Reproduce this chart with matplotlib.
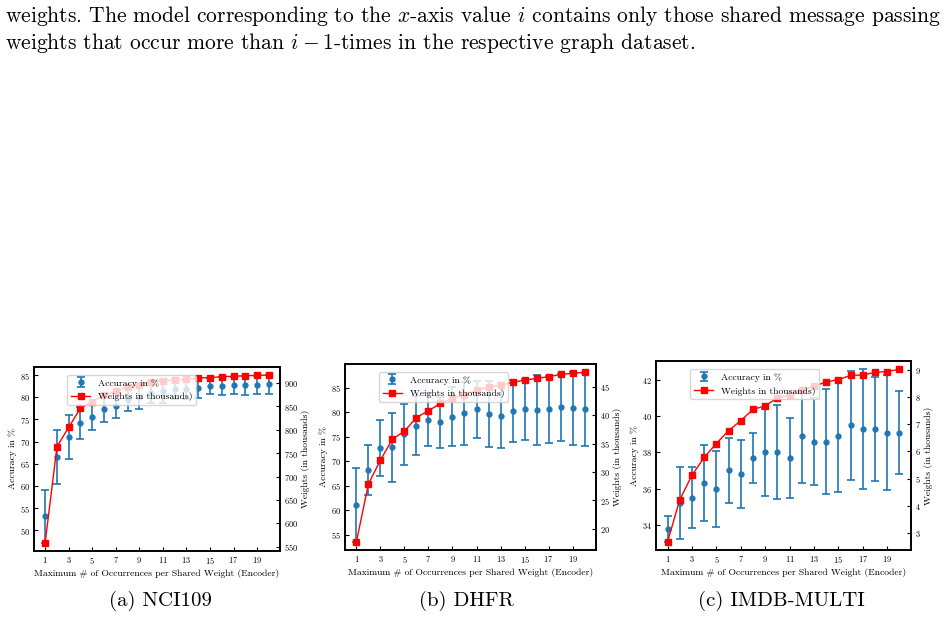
import numpy as np
import matplotlib
matplotlib.use("Agg")
import matplotlib.pyplot as plt

plt.rcParams['font.family'] = ['cmr10', 'DejaVu Serif']
plt.rcParams['mathtext.fontset'] = 'cm'
plt.rcParams['axes.formatter.use_mathtext'] = True

occ = list(range(1, 21))

# NCI109
acc_nci = [53.1, 66.5, 71.0, 74.2, 75.6, 77.4, 78.1, 79.3, 80.0, 81.0,
           81.4, 81.8, 81.8, 82.0, 82.5, 82.6, 82.7, 82.7, 82.7, 82.9]
std_nci = [5.9, 6.0, 4.9, 3.6, 3.0, 2.9, 2.8, 2.5, 2.7, 2.4,
           2.6, 2.3, 2.2, 2.2, 1.8, 2.0, 1.9, 2.2, 2.0, 2.1]
w_nci = [559, 764, 805, 846, 860, 873, 882, 891, 896, 901,
         904, 906, 908, 910.6, 911, 913, 914, 915, 916, 916.5]

# DHFR
acc_dhfr = [61.1, 68.3, 72.8, 72.9, 75.5, 77.3, 78.5, 78.0, 79.1, 79.8,
            80.6, 79.7, 79.3, 80.3, 80.6, 80.5, 80.6, 81.0, 80.8, 80.6]
std_dhfr = [7.5, 5.1, 5.7, 7.0, 6.2, 6.0, 5.4, 5.2, 6.0, 6.4,
            5.8, 6.8, 6.6, 6.3, 6.2, 7.2, 6.8, 6.9, 7.4, 7.4]
w_dhfr = [17.7, 27.9, 32.1, 35.8, 37.2, 39.6, 40.8, 42.1, 43.0, 43.6,
          44.4, 45.0, 45.3, 45.8, 46.2, 46.5, 46.8, 47.2, 47.4, 47.6]

# IMDB-MULTI
acc_imdb = [33.76, 35.2, 35.5, 36.3, 36.0, 37.0, 36.8, 37.7, 38.0, 38.0,
            37.7, 38.9, 38.6, 38.6, 38.9, 39.5, 39.3, 39.3, 39.1, 39.1]
std_imdb = [0.7, 2.0, 1.7, 2.1, 2.1, 1.8, 1.9, 1.4, 2.4, 2.6,
            2.2, 2.6, 2.4, 2.9, 3.1, 3.0, 3.3, 2.9, 3.2, 2.3]
w_imdb = [2.69, 4.23, 5.13, 5.78, 6.29, 6.76, 7.13, 7.54, 7.67, 7.96,
          8.06, 8.24, 8.39, 8.55, 8.63, 8.79, 8.80, 8.90, 8.93, 9.01]

panels = [
    ("(a) NCI109", acc_nci, std_nci, w_nci, [34, 280, 366.7, 551], 160),
    ("(b) DHFR", acc_dhfr, std_dhfr, w_dhfr, [345, 596, 363.7, 550.3], 466),
    ("(c) IMDB-MULTI", acc_imdb, std_imdb, w_imdb, [656, 911, 360.7, 550.3], 781),
]

W, H = 949, 617
fig = plt.figure(figsize=(W / 100, H / 100), dpi=100)

fig.text(5 / W, 1 - 22 / H,
         r"weights. The model corresponding to the $x$-axis value $i$ contains only those shared message passing",
         fontsize=15.5, va='baseline', ha='left')
fig.text(5 / W, 1 - 49 / H,
         r"weights that occur more than $i-1$-times in the respective graph dataset.",
         fontsize=15.5, va='baseline', ha='left')

fs = 6.9
for caption, acc, std, w, (x0, x1, y0, y1), cx in panels:
    ax = fig.add_axes([x0 / W, 1 - y1 / H, (x1 - x0) / W, (y1 - y0) / H])
    eb = ax.errorbar(occ, acc, yerr=std, fmt='o', color='#1f77b4', ms=3.5,
                     capsize=3, elinewidth=1.2, capthick=1.2)
    ax.set_xticks(occ[::2])
    ax.set_ylabel("Accuracy in %", fontsize=fs, labelpad=2)
    ax.set_xlabel("Maximum # of Occurrences per Shared Weight (Encoder)", fontsize=fs, labelpad=2)
    ax.tick_params(direction='in', labelsize=6, length=3, pad=3)

    ax2 = ax.twinx()
    ln, = ax2.plot(occ, w, '-s', color='red', ms=3.8, lw=1)
    ax2.set_ylabel("Weights (in thousands)", fontsize=fs, labelpad=2)
    ax2.tick_params(direction='in', labelsize=6, length=3, pad=3)
    for a in (ax, ax2):
        for s in a.spines.values():
            s.set_linewidth(1.2)

    ax2.legend([eb, ln], ["Accuracy in %", "Weights in thousands)"], loc='upper left',
               bbox_to_anchor=(0.135, 0.955), borderaxespad=0, fontsize=fs,
               framealpha=0.8)

    fig.text(cx / W, 1 - 606 / H, caption, fontsize=15, ha='center', va='baseline')

fig.savefig("out.png", dpi=100)
